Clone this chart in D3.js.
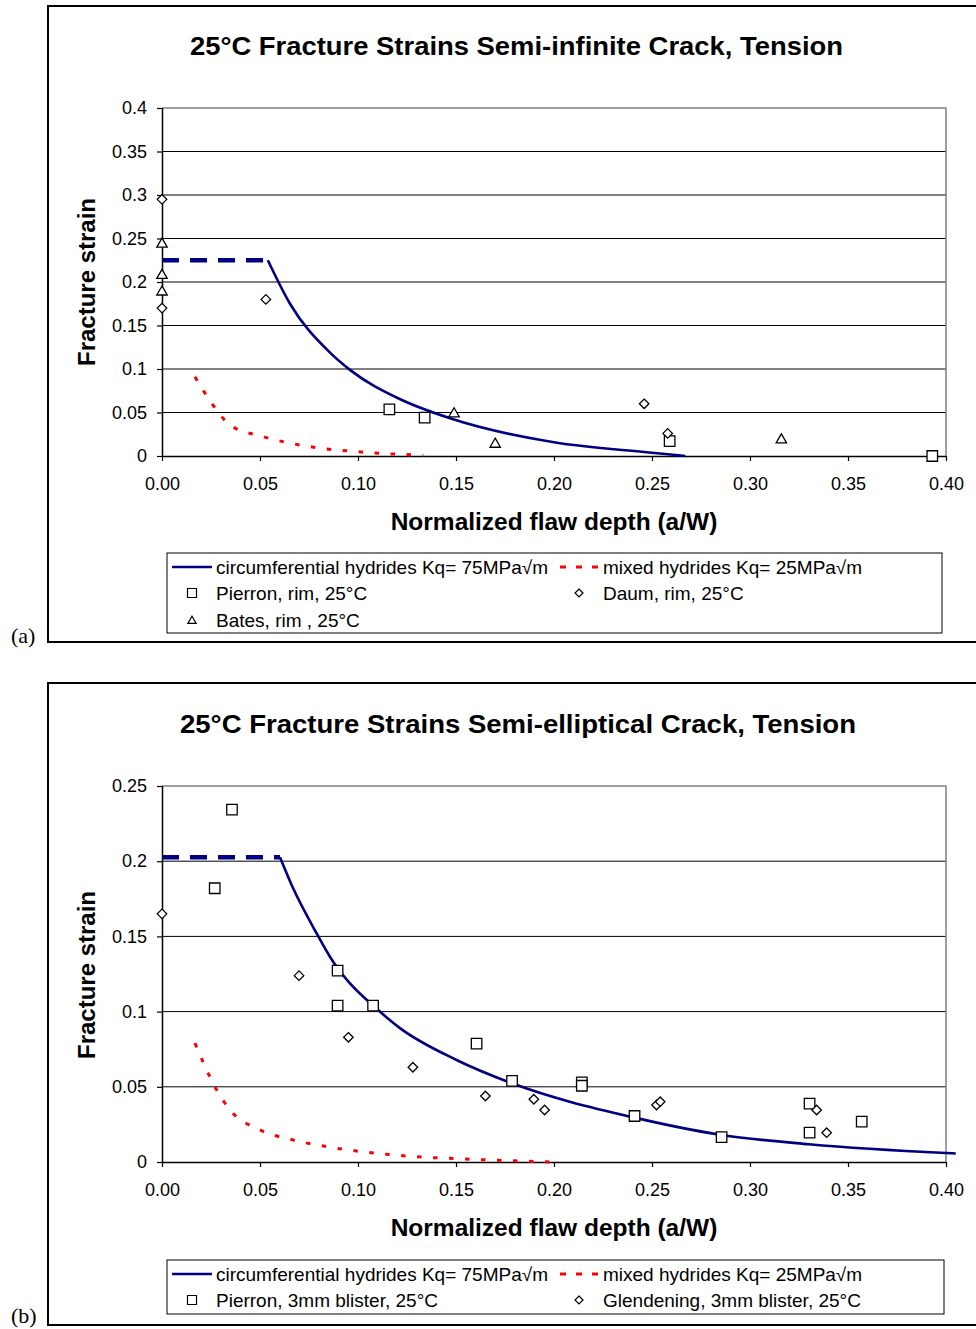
<!DOCTYPE html>
<html>
<head>
<meta charset="utf-8">
<script src="https://cdn.jsdelivr.net/npm/d3@7"></script>
<style>
  body { margin: 0; background: #fff; }
  svg { display: block; }
  text { font-family: "Liberation Sans", Arial, sans-serif; fill: #000; }
</style>
</head>
<body>
<svg id="chart" width="976" height="1329"></svg>
<script>
'use strict'

// ---- shared ----
const xTicks = [0, 0.05, 0.10, 0.15, 0.20, 0.25, 0.30, 0.35, 0.40]

// ---- panel (a): semi-infinite crack ----
const aTitle = '25°C Fracture Strains Semi-infinite Crack, Tension'
const aYTicks = [0, 0.05, 0.1, 0.15, 0.2, 0.25, 0.3, 0.35, 0.4]
const aPlateau = [[0, 0.225], [0.054, 0.225]]
const aCircumferential = [
  [0.054, 0.225], [0.0653, 0.175], [0.0852, 0.12], [0.0959, 0.099],
  [0.1213, 0.0655], [0.147, 0.0433], [0.2, 0.0157], [0.25, 0.0038], [0.267, 0]
]
const aMixed = [
  [0.0168, 0.091], [0.026, 0.0586], [0.0347, 0.0356], [0.0517, 0.0222],
  [0.0755, 0.0107], [0.0993, 0.005], [0.1333, 0.0008]
]
const aPierron = [[0.116, 0.0537], [0.134, 0.044], [0.259, 0.017], [0.393, 0]]
const aDaum = [[0, 0.295], [0, 0.17], [0.053, 0.18], [0.246, 0.06], [0.258, 0.026]]
const aBates = [[0, 0.245], [0, 0.209], [0, 0.19], [0.149, 0.05], [0.17, 0.015], [0.316, 0.02]]

// ---- panel (b): semi-elliptical crack ----
const bTitle = '25°C Fracture Strains Semi-elliptical Crack, Tension'
const bYTicks = [0, 0.05, 0.1, 0.15, 0.2, 0.25]
const bPlateau = [[0, 0.2026], [0.0602, 0.2026]]
const bCircumferential = [
  [0.0602, 0.2026], [0.0662, 0.184], [0.0789, 0.152], [0.0857, 0.1365],
  [0.0896, 0.1288], [0.0959, 0.1188], [0.1077, 0.104], [0.1214, 0.089],
  [0.15, 0.068], [0.1786, 0.0523], [0.2411, 0.0295], [0.2854, 0.018],
  [0.33, 0.0118], [0.40, 0.006], [0.405, 0.0057]
]
const bMixed = [
  [0.0168, 0.079], [0.0279, 0.0479], [0.0347, 0.0346], [0.05, 0.0213],
  [0.067, 0.0146], [0.084, 0.0102], [0.1095, 0.0058], [0.1248, 0.004],
  [0.158, 0.0018], [0.1995, 0]
]
const bPierron = [
  [0.0357, 0.2343], [0.0269, 0.182], [0.0896, 0.1272], [0.0896, 0.104],
  [0.1077, 0.104], [0.1605, 0.0787], [0.1786, 0.0539], [0.2142, 0.053],
  [0.2142, 0.0507], [0.2411, 0.0306], [0.2855, 0.0166], [0.3304, 0.0388],
  [0.3304, 0.0195], [0.357, 0.0268]
]
const bGlendening = [
  [0, 0.165], [0.0699, 0.1239], [0.0951, 0.0829], [0.128, 0.063],
  [0.165, 0.0439], [0.1897, 0.0417], [0.1952, 0.0346], [0.2523, 0.0379],
  [0.2542, 0.0401], [0.334, 0.0346], [0.3391, 0.0195]
]

const circLabel = 'circumferential hydrides Kq= 75MPa\u221Am'
const mixedLabel = 'mixed hydrides Kq= 25MPa\u221Am'

const navy = '#000080'
const red = '#FF0000'

const svg = d3.select('#chart')

function markerPath (shape, s) {
  if (shape === 'square') return `M${-s / 2},${-s / 2}h${s}v${s}h${-s}Z`
  if (shape === 'diamond') return `M0,${-s / 2}L${s / 2},0L0,${s / 2}L${-s / 2},0Z`
  // triangle
  return `M0,${-s * 0.5}L${s * 0.55},${s * 0.45}L${-s * 0.55},${s * 0.45}Z`
}

const markerSize = { square: 10.5, diamond: 9.5, triangle: 9.5 }
const legendMarkerSize = { square: 9, diamond: 8, triangle: 7.5 }

function drawPanel (p) {
  // frame
  svg.append('rect')
    .attr('x', p.frame.x).attr('y', p.frame.y)
    .attr('width', p.frame.w).attr('height', p.frame.h)
    .attr('fill', 'none').attr('stroke', '#000').attr('stroke-width', 2)

  svg.append('text')
    .attr('x', 11).attr('y', p.tagY)
    .style('font-family', '"Liberation Serif", "Times New Roman", serif')
    .style('font-size', '22px')
    .text(p.tag)

  const x = d3.scaleLinear().domain([0, 0.4]).range([p.plot.left, p.plot.right])
  const y = d3.scaleLinear().domain([0, p.yMax]).range([p.plot.bottom, p.plot.top])

  // title (stretched a bit, like the original)
  svg.append('text')
    .attr('x', p.titleX).attr('y', p.titleY)
    .attr('text-anchor', 'middle')
    .attr('textLength', p.titleW).attr('lengthAdjust', 'spacingAndGlyphs')
    .style('font-size', '25px').style('font-weight', 'bold')
    .text(p.title)

  // gridlines
  svg.append('g').selectAll('line')
    .data(p.yTicks.filter(d => d > 0 && d < p.yMax))
    .join('line')
    .attr('x1', p.plot.left).attr('x2', p.plot.right)
    .attr('y1', d => y(d)).attr('y2', d => y(d))
    .attr('stroke', '#000').attr('stroke-width', 1)

  // plot area border (top/right grey)
  svg.append('path')
    .attr('d', `M${p.plot.left},${p.plot.top}H${p.plot.right}V${p.plot.bottom}`)
    .attr('fill', 'none').attr('stroke', '#808080').attr('stroke-width', 1.5)

  // axes
  const yAxis = d3.axisLeft(y).tickValues(p.yTicks).tickSize(5).tickPadding(10)
    .tickFormat(d => String(+d.toFixed(2)))
  const gy = svg.append('g').attr('transform', `translate(${p.plot.left},0)`).call(yAxis)
  const xAxis = d3.axisBottom(x).tickValues(xTicks).tickSize(5).tickPadding(16)
    .tickFormat(d3.format('.2f'))
  const gx = svg.append('g').attr('transform', `translate(0,${p.plot.bottom})`).call(xAxis)
  for (const g of [gx, gy]) {
    g.select('.domain').attr('stroke', '#000').attr('stroke-width', 1.5)
    g.selectAll('.tick line').attr('stroke', '#000').attr('stroke-width', 1.2)
    g.selectAll('.tick text')
      .style('font-family', '"Liberation Sans", Arial, sans-serif')
      .style('font-size', '18px').attr('fill', '#000')
  }
  gx.select('.domain').attr('d', `M${p.plot.left},0.5H${p.plot.right}`)
  gy.select('.domain').attr('d', `M0.5,${p.plot.bottom}V${p.plot.top}`)

  // axis titles
  svg.append('text')
    .attr('x', (p.plot.left + p.plot.right) / 2).attr('y', p.xTitleY)
    .attr('text-anchor', 'middle')
    .style('font-size', '24.5px').style('font-weight', 'bold')
    .text('Normalized flaw depth (a/W)')
  svg.append('text')
    .attr('transform', `translate(${p.yTitleX},${p.yTitleY}) rotate(-90)`)
    .attr('text-anchor', 'middle')
    .style('font-size', '24px').style('font-weight', 'bold')
    .text('Fracture strain')

  const line = d3.line().x(d => x(d[0])).y(d => y(d[1]))

  // lines
  svg.append('path').datum(p.mixed)
    .attr('d', line.curve(d3.curveMonotoneX))
    .attr('fill', 'none').attr('stroke', red).attr('stroke-width', 3)
    .attr('stroke-dasharray', '4.5,11.5')
  svg.append('path').datum(p.plateau)
    .attr('d', line.curve(d3.curveLinear))
    .attr('fill', 'none').attr('stroke', navy).attr('stroke-width', 4.5)
    .attr('stroke-dasharray', '17,11')
  svg.append('path').datum(p.circ)
    .attr('d', line.curve(d3.curveMonotoneX))
    .attr('fill', 'none').attr('stroke', navy).attr('stroke-width', 2.6)

  // markers
  for (const s of p.series) {
    svg.append('g').selectAll('path')
      .data(s.data)
      .join('path')
      .attr('transform', d => `translate(${x(d[0])},${y(d[1])})`)
      .attr('d', markerPath(s.shape, markerSize[s.shape]))
      .attr('fill', '#fff').attr('stroke', '#000').attr('stroke-width', 1.3)
  }

  // legend
  const L = p.legend
  svg.append('rect')
    .attr('x', L.x).attr('y', L.y).attr('width', L.w).attr('height', L.h)
    .attr('fill', '#fff').attr('stroke', '#000').attr('stroke-width', 1)
  const lg = svg.append('g').style('font-size', '19px')
  const row0 = L.rows[0]
  lg.append('line').attr('x1', 172).attr('x2', 212).attr('y1', row0).attr('y2', row0)
    .attr('stroke', navy).attr('stroke-width', 2.6)
  lg.append('text').attr('x', 216).attr('y', row0).attr('dy', '0.35em').text(circLabel)
  lg.append('line').attr('x1', 560).attr('x2', 598).attr('y1', row0).attr('y2', row0)
    .attr('stroke', red).attr('stroke-width', 3).attr('stroke-dasharray', '6,10')
  lg.append('text').attr('x', 603).attr('y', row0).attr('dy', '0.35em').text(mixedLabel)
  p.series.forEach((s, i) => {
    const col = i % 2
    const ry = L.rows[1 + Math.floor(i / 2)]
    const mx = col === 0 ? 192 : 579
    const tx = col === 0 ? 216 : 603
    lg.append('path')
      .attr('transform', `translate(${mx},${ry})`)
      .attr('d', markerPath(s.shape, legendMarkerSize[s.shape]))
      .attr('fill', '#fff').attr('stroke', '#000').attr('stroke-width', 1.2)
    lg.append('text').attr('x', tx).attr('y', ry).attr('dy', '0.35em').text(s.label)
  })
}

drawPanel({
  tag: '(a)', tagY: 643,
  frame: { x: 48, y: 6, w: 940, h: 636 },
  plot: { left: 162, right: 946, top: 108, bottom: 456 },
  yMax: 0.4, yTicks: aYTicks,
  title: aTitle, titleX: 516.5, titleY: 55, titleW: 653,
  xTitleY: 530, yTitleX: 95, yTitleY: 282,
  plateau: aPlateau, circ: aCircumferential, mixed: aMixed,
  series: [
    { label: 'Pierron, rim, 25°C', shape: 'square', data: aPierron },
    { label: 'Daum, rim, 25°C', shape: 'diamond', data: aDaum },
    { label: 'Bates, rim , 25°C', shape: 'triangle', data: aBates }
  ],
  legend: { x: 167, y: 553, w: 775, h: 80, rows: [567, 593, 620] }
})

drawPanel({
  tag: '(b)', tagY: 1323,
  frame: { x: 48, y: 683, w: 940, h: 642 },
  plot: { left: 162, right: 946, top: 786, bottom: 1162 },
  yMax: 0.25, yTicks: bYTicks,
  title: bTitle, titleX: 518, titleY: 733, titleW: 676,
  xTitleY: 1236, yTitleX: 95, yTitleY: 975,
  plateau: bPlateau, circ: bCircumferential, mixed: bMixed,
  series: [
    { label: 'Pierron, 3mm blister, 25°C', shape: 'square', data: bPierron },
    { label: 'Glendening, 3mm blister, 25°C', shape: 'diamond', data: bGlendening }
  ],
  legend: { x: 167, y: 1260, w: 777, h: 54, rows: [1274, 1300] }
})
</script>
</body>
</html>
